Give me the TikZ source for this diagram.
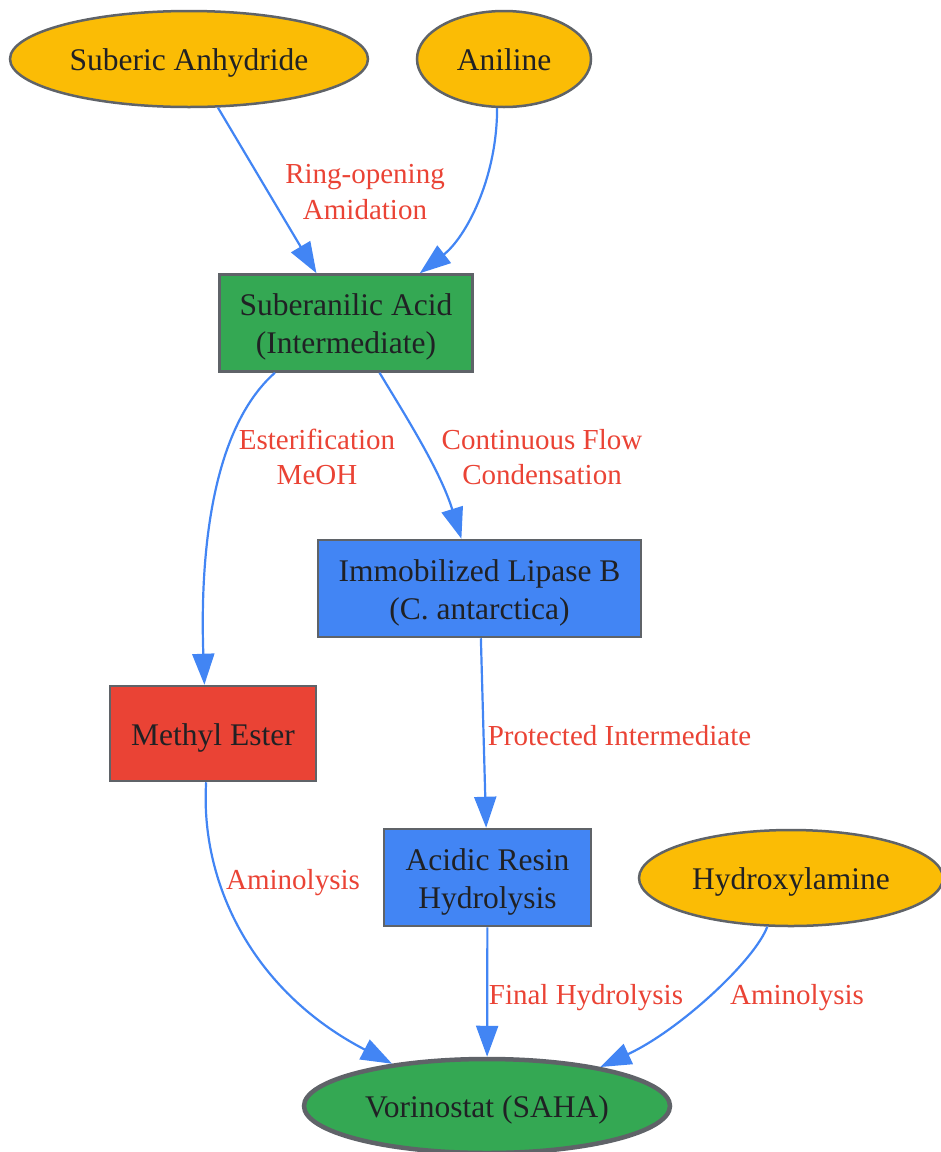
\documentclass[tikz,border=0pt]{standalone}
\usepackage{fontspec}
\setmainfont{Liberation Serif}
\usetikzlibrary{shapes.geometric,arrows.meta}
\definecolor{gyellow}{HTML}{FBBC05}
\definecolor{ggreen}{HTML}{34A853}
\definecolor{gred}{HTML}{EA4335}
\definecolor{gblue}{HTML}{4285F4}
\definecolor{gborder}{HTML}{5F6368}
\definecolor{gtext}{HTML}{202124}
\newcommand\strutT{\rule{0pt}{30pt}}
\newcommand\strutB{\rule[-7pt]{0pt}{7pt}}
\tikzset{
  base/.style={draw=gborder, line width=2.5pt, text=gtext, inner sep=0pt, align=center,
    font=\fontsize{31.5}{38}\selectfont},
  oneline/.style={text height=30pt, text depth=7pt},
  oval/.style={base, ellipse, fill=gyellow},
  boxnode/.style={base, rectangle},
  elabel/.style={text=gred, align=center, inner sep=0pt, font=\fontsize{29}{35.5}\selectfont},
  edge/.style={draw=gblue, line width=2.2pt, -{Triangle[length=31pt,width=22pt]}}
}
\begin{document}
\begin{tikzpicture}[x=1pt,y=-1pt]
\useasboundingbox (0,0) rectangle (941,1152);
% nodes
\node[oval, oneline, minimum width=358pt, minimum height=96pt] (sa) at (189,59) {Suberic Anhydride};
\node[oval, oneline, minimum width=174pt, minimum height=96pt] (an) at (504,59) {Aniline};
\node[boxnode, fill=ggreen, minimum width=253pt, minimum height=97pt] (sua) at (346,323) {\strutT Suberanilic Acid\\(Intermediate)\strutB};
\node[boxnode, fill=gblue, minimum width=323pt, minimum height=97pt] (ilb) at (479.5,588.5) {\strutT Immobilized Lipase B\\(C. antarctica)\strutB};
\node[boxnode, oneline, fill=gred, minimum width=206pt, minimum height=95pt] (me) at (213,733.5) {Methyl Ester};
\node[boxnode, fill=gblue, minimum width=207pt, minimum height=97pt] (ar) at (487.5,877.5) {\strutT Acidic Resin\\Hydrolysis\strutB};
\node[oval, oneline, minimum width=304pt, minimum height=96pt] (hy) at (791,878) {Hydroxylamine};
\node[base, oneline, ellipse, fill=ggreen, line width=4.5pt, minimum width=366pt, minimum height=94pt] (vor) at (487,1106) {Vorinostat (SAHA)};
% edges
\draw[edge] (sa) -- (sua);
\draw[edge] (an.-98.3) .. controls (497,180) and (465,238) .. (sua.34.4);
\draw[edge] (sua.215.2) .. controls (210,430) and (200,560) .. (me.100.3);
\draw[edge] (sua.-56.6) .. controls (405,415) and (440,470) .. (ilb.110.5);
\draw[edge] (ilb) -- (ar);
\draw[edge] (me.-98.2) .. controls (200,880) and (250,990) .. (vor.156.3);
\draw[edge] (ar) -- (vor);
\draw[edge] (hy.-116.6) .. controls (755,960) and (680,1030) .. (vor.19.8);
% edge labels
\node[elabel] (l1) at (365,192) {Ring-opening\\Amidation};
\node[elabel] (l2) at (317,457) {Esterification\\MeOH};
\node[elabel] (l3) at (542,457) {Continuous Flow\\Condensation};
\node[elabel] (l4) at (619.5,736) {Protected Intermediate};
\node[elabel] (l5) at (293,883) {Aminolysis};
\node[elabel] (l6) at (586,998) {Final Hydrolysis};
\node[elabel] (l7) at (797,998) {Aminolysis};
\end{tikzpicture}
\end{document}
